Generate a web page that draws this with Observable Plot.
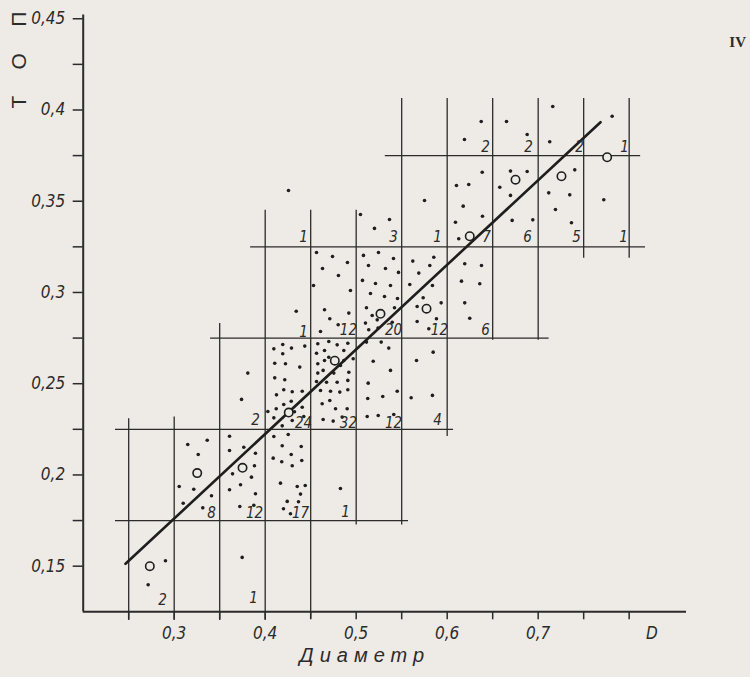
<!DOCTYPE html>
<html><head><meta charset="utf-8">
<script src="https://cdn.jsdelivr.net/npm/d3@7"></script>
<script src="https://cdn.jsdelivr.net/npm/@observablehq/plot@0.6"></script>
<style>
html,body{margin:0;padding:0;background:#eeeae5;}
</style></head><body><div id="chart"></div>
<script>
// ---- data (diameter D on x, top value on y) ----
const xTicks = [0.25,0.3,0.35,0.4,0.45,0.5,0.55,0.6,0.65,0.7,0.75,0.8];
const xLabelVals = [0.3,0.4,0.5,0.6,0.7,0.825];
const xTickLabels = ["0,3","0,4","0,5","0,6","0,7","D"];
const yTicks = [0.15,0.175,0.2,0.225,0.25,0.275,0.3,0.325,0.35,0.375,0.4,0.425,0.45];
const yLabelVals = [0.15,0.2,0.25,0.3,0.35,0.4,0.45];
const yTickLabels = ["0,15","0,2","0,25","0,3","0,35","0,4","0,45"];
const xTitle = "Диаметр";
const yTitle = "Т\u2003\u2005О\u2003\u2005П";
const plateLabel = "IV";

// correlation-table grid: [y, x from, x to] and [x, y from, y to]
const hLines = [[0.175,0.2355,0.5575],[0.225,0.2355,0.607],[0.275,0.34,0.712],[0.325,0.384,0.818],[0.375,0.532,0.8126]];
const vLines = [[0.25,0.1202,0.2308],[0.3,0.1202,0.2317],[0.35,0.1202,0.283],[0.4,0.1202,0.345],[0.45,0.1210,0.345],
  [0.5,0.1725,0.345],[0.55,0.1725,0.4063],[0.6,0.221,0.4063],[0.65,0.2738,0.4063],[0.7,0.2738,0.4063],[0.75,0.3187,0.4063],[0.8,0.3187,0.4063]];

// individual observations
const dots = [
 [0.2904,0.1530],[0.2714,0.1398],[0.3747,0.1548],
 [0.3149,0.2167],[0.3363,0.2190],[0.3264,0.2112],[0.3055,0.1937],[0.3215,0.1922],[0.3099,0.1845],[0.3314,0.1820],[0.3410,0.1886],
 [0.3608,0.2212],[0.3608,0.2134],[0.3765,0.2152],[0.3893,0.2119],[0.3641,0.2006],[0.3882,0.2050],[0.3849,0.1988],[0.3608,0.1919],[0.3729,0.1946],[0.3893,0.1897],[0.3721,0.1827],[0.3875,0.1834],
 [0.4095,0.2211],[0.4253,0.2222],[0.4187,0.2160],[0.4396,0.2156],[0.4088,0.2092],[0.4182,0.2072],[0.4286,0.2112],[0.4297,0.2050],[0.4402,0.2079],[0.4168,0.1955],[0.4352,0.1937],[0.4440,0.1942],[0.4388,0.1895],[0.4242,0.1855],[0.4366,0.1853],[0.4201,0.1815],[0.4278,0.1787],
 [0.4827,0.1926],
 [0.3809,0.2558],[0.3740,0.2414],
 [0.4095,0.2691],[0.4193,0.2715],[0.4289,0.2695],[0.4435,0.2706],[0.4193,0.2664],[0.4105,0.2612],[0.4223,0.2609],[0.4380,0.2591],[0.4105,0.2532],[0.4215,0.2522],[0.4204,0.2467],[0.4297,0.2456],[0.4407,0.2459],[0.4124,0.2439],[0.4286,0.2404],[0.4204,0.2386],[0.4407,0.2371],[0.4029,0.2348],[0.4121,0.2363],[0.4322,0.2346],[0.4095,0.2313],[0.4187,0.2269],[0.4297,0.2298],[0.4424,0.2320],
 [0.4578,0.2719],[0.4699,0.2731],[0.4791,0.2713],[0.4908,0.2722],[0.4564,0.2667],[0.4652,0.2682],[0.4699,0.2645],[0.4864,0.2682],[0.4967,0.2637],[0.4578,0.2609],[0.4652,0.2627],[0.4864,0.2627],[0.4637,0.2573],[0.4827,0.2600],[0.4919,0.2563],[0.4564,0.2512],[0.4754,0.2558],[0.4674,0.2508],[0.4791,0.2508],[0.4908,0.2518],[0.4608,0.2463],[0.4718,0.2459],[0.4820,0.2454],[0.4908,0.2467],[0.4626,0.2390],[0.4773,0.2363],[0.4901,0.2363],[0.4637,0.2304],[0.4747,0.2295],[0.4846,0.2317],[0.4578,0.2558],[0.4710,0.2408],
 [0.5113,0.2728],[0.5275,0.2728],[0.5358,0.2695],[0.5187,0.2623],[0.5377,0.2573],[0.5132,0.2503],[0.5451,0.2459],[0.5127,0.2419],[0.5292,0.2430],[0.5121,0.2320],[0.5242,0.2326],[0.5413,0.2331],
 [0.5663,0.2627],[0.5846,0.2673],[0.5604,0.2423],[0.5838,0.2436],
 [0.4341,0.2897],
 [0.4564,0.3219],[0.4740,0.3197],[0.4904,0.3164],[0.4630,0.3131],[0.4805,0.3093],[0.4531,0.3038],[0.4937,0.3011],[0.4652,0.2905],[0.4710,0.2856],[0.4919,0.2887],[0.4802,0.2823],[0.4608,0.2786],
 [0.5080,0.3203],[0.5245,0.3219],[0.5410,0.3186],[0.5135,0.3148],[0.5322,0.3131],[0.5465,0.3110],[0.5069,0.3066],[0.5212,0.3049],[0.5377,0.3038],[0.5157,0.2994],[0.5311,0.2978],[0.5454,0.2967],[0.5113,0.2916],[0.5176,0.2874],[0.5102,0.2832],[0.5231,0.2850],[0.5421,0.2916],[0.5396,0.2837],[0.5138,0.2796],[0.5240,0.2805],
 [0.5622,0.3172],[0.5853,0.3193],[0.5688,0.3106],[0.5809,0.3148],[0.5589,0.3044],[0.5838,0.3038],[0.5736,0.2971],[0.5934,0.2943],[0.5670,0.2923],[0.5882,0.2856],[0.5670,0.2841],[0.5798,0.2801],
 [0.6193,0.3157],[0.6377,0.3148],[0.6157,0.3062],[0.6358,0.3048],[0.6193,0.2943],[0.6248,0.2859],
 [0.4256,0.3559],
 [0.5047,0.3427],[0.5201,0.3351],[0.5366,0.3400],
 [0.5751,0.3504],
 [0.6102,0.3586],[0.6237,0.3592],[0.6385,0.3659],[0.6176,0.3473],[0.6388,0.3418],[0.6091,0.3385],[0.6127,0.3294],
 [0.6696,0.3665],[0.6879,0.3663],[0.6578,0.3577],[0.6696,0.3532],[0.6714,0.3395],[0.6941,0.3398],
 [0.7402,0.3672],[0.7116,0.3546],[0.7347,0.3535],[0.7190,0.3455],[0.7366,0.3382],
 [0.7721,0.3508],
 [0.6190,0.3838],[0.6374,0.3937],[0.6652,0.3937],[0.6879,0.3866],[0.7160,0.4019],[0.7127,0.3826],[0.7813,0.3966]
];

// class means (open circles)
const means = [[0.2732,0.1500],[0.3253,0.2010],[0.3751,0.2039],[0.4259,0.2342],[0.4765,0.2626],[0.5267,0.2883],
  [0.5773,0.2911],[0.6248,0.3308],[0.6751,0.3618],[0.7256,0.3637],[0.7758,0.3741]];

// fitted straight line
const fitLine = [[0.2465,0.1513],[0.7685,0.3933]];

// cell counts [x, y, text]
const counts = [
 [0.2871,0.1312,"2"],[0.3871,0.1323,"1"],
 [0.3410,0.1789,"8"],[0.3882,0.1789,"12"],[0.4388,0.1789,"17"],[0.4882,0.1794,"1"],
 [0.3893,0.2298,"2"],[0.4421,0.2282,"24"],[0.4915,0.2282,"32"],[0.5410,0.2282,"12"],[0.5893,0.2298,"4"],
 [0.4421,0.2781,"1"],[0.4915,0.2792,"12"],[0.5410,0.2792,"20"],[0.5915,0.2792,"12"],[0.6421,0.2792,"6"],
 [0.4421,0.3301,"1"],[0.5410,0.3301,"3"],[0.5893,0.3301,"1"],[0.6432,0.3301,"7"],[0.6882,0.3301,"6"],[0.7421,0.3301,"5"],[0.7937,0.3301,"1"],
 [0.6421,0.3795,"2"],[0.6893,0.3795,"2"],[0.7454,0.3795,"2"],[0.7948,0.3795,"1"]
];

// ---- drawing ----
const BG = "#eeeae5", INK = "#2b2b2b";
const NUM = "'Liberation Sans Narrow','DejaVu Sans Condensed',sans-serif";
const X0 = 0.2, X1 = 0.863, Y0 = 0.125, Y1 = 0.452;

const chart = Plot.plot({
  width: 750, height: 677,
  marginLeft: 82.7, marginRight: 64, marginTop: 14.6, marginBottom: 65.7,
  style: {background: BG, fontFamily: NUM, color: INK},
  x: {domain: [X0, X1]},
  y: {domain: [Y0, Y1]},
  marks: [
    Plot.ruleY(hLines, {y: d => d[0], x1: d => d[1], x2: d => d[2], stroke: INK, strokeWidth: 1.3}),
    Plot.ruleX(vLines, {x: d => d[0], y1: d => d[1], y2: d => d[2], stroke: INK, strokeWidth: 1.3}),
    Plot.ruleY([Y0], {x1: X0, x2: X1, stroke: INK, strokeWidth: 2}),
    Plot.ruleX([X0], {y1: Y0, y2: Y1, stroke: INK, strokeWidth: 2}),
    Plot.axisX(xTicks, {tickSize: 8, tickFormat: () => "", label: null, stroke: INK, strokeWidth: 1.5}),
    Plot.axisX(xLabelVals, {tickSize: 0, tickPadding: 15, label: null, fontSize: 17, fontStyle: "italic", fill: INK,
      tickFormat: d => xTickLabels[xLabelVals.indexOf(d)]}),
    Plot.axisY(yTicks, {tickSize: 10, tickFormat: () => "", label: null, stroke: INK, strokeWidth: 1.5}),
    Plot.axisY(yLabelVals, {tickSize: 0, tickPadding: 18, label: null, fontSize: 17, fontStyle: "italic", fill: INK,
      tickFormat: d => yTickLabels[yLabelVals.indexOf(d)]}),
    Plot.line(fitLine, {x: d => d[0], y: d => d[1], stroke: "#1e1e1e", strokeWidth: 2.6}),
    Plot.dot(dots, {x: d => d[0], y: d => d[1], r: 1.8, fill: "#1e1e1e", stroke: "none"}),
    Plot.dot(means, {x: d => d[0], y: d => d[1], r: 4.2, fill: BG, stroke: "#1e1e1e", strokeWidth: 1.6}),
    Plot.text(counts, {x: d => d[0], y: d => d[1], text: d => d[2], fontSize: 15, fontStyle: "italic", fill: INK}),
    Plot.text([xTitle], {frameAnchor: "bottom", dx: -20, dy: 50, fontSize: 20, fontStyle: "italic",
      fontFamily: "'Liberation Sans',sans-serif", fill: INK}),
    Plot.text([yTitle], {frameAnchor: "top-left", textAnchor: "middle", dx: -72, dy: 45, rotate: -90, fontSize: 21,
      fontFamily: "'Liberation Sans',sans-serif", fill: INK}),
    Plot.text([plateLabel], {frameAnchor: "top-right", dx: 59.5, dy: 21, fontSize: 15, fontWeight: "bold",
      fontFamily: "'Liberation Serif',serif", fill: INK})
  ]
});
document.getElementById("chart").appendChild(chart);
d3.select(chart).selectAll("text").filter(function(){ return this.textContent === xTitle; }).attr("letter-spacing", 6);
</script>
</body></html>
